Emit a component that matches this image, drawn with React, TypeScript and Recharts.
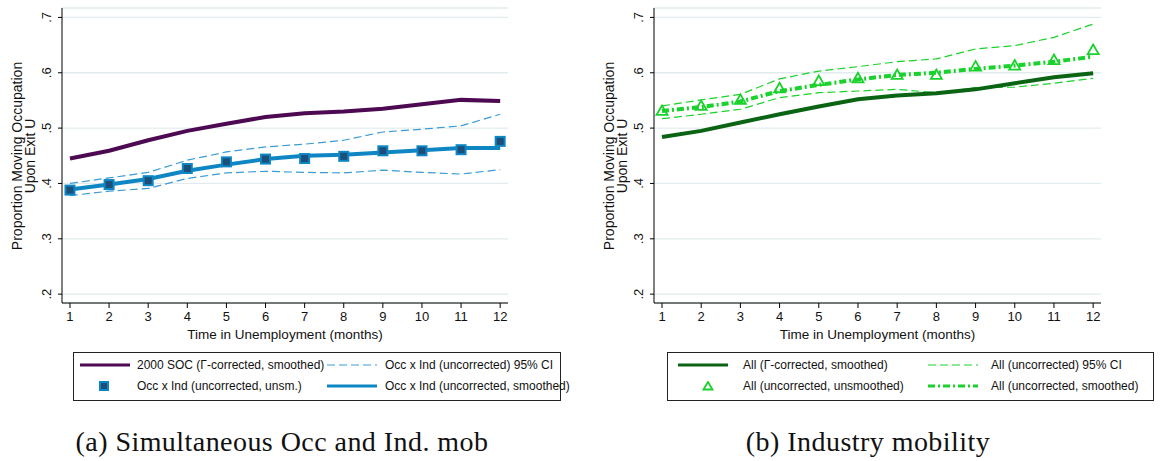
import React from "react"
import { CartesianGrid, Line, LineChart, XAxis, YAxis } from "recharts"

// months on the x axis
const months = [1, 2, 3, 4, 5, 6, 7, 8, 9, 10, 11, 12]
const yTicks = [0.2, 0.3, 0.4, 0.5, 0.6, 0.7]

// panel (a): simultaneous occ and ind mobility
const socSmoothed = [0.445, 0.459, 0.478, 0.495, 0.508, 0.52, 0.527, 0.53, 0.535, 0.543, 0.551, 0.549]
const occIndSmoothed = [0.389, 0.398, 0.408, 0.423, 0.434, 0.444, 0.45, 0.452, 0.456, 0.46, 0.464, 0.464]
const occIndUnsm = [0.388, 0.398, 0.405, 0.427, 0.439, 0.444, 0.445, 0.449, 0.459, 0.459, 0.461, 0.476]
const occIndUpper = [0.4, 0.41, 0.42, 0.442, 0.457, 0.466, 0.471, 0.478, 0.493, 0.498, 0.504, 0.525]
const occIndLower = [0.378, 0.386, 0.391, 0.409, 0.419, 0.422, 0.42, 0.419, 0.424, 0.42, 0.417, 0.425]

// panel (b): industry mobility
const allCorrected = [0.484, 0.495, 0.51, 0.525, 0.539, 0.552, 0.559, 0.563, 0.57, 0.581, 0.592, 0.599]
const allUnsm = [0.531, 0.54, 0.551, 0.572, 0.585, 0.59, 0.596, 0.596, 0.611, 0.613, 0.623, 0.641]
const allSmoothed = [0.531, 0.538, 0.548, 0.567, 0.578, 0.588, 0.596, 0.6, 0.607, 0.613, 0.62, 0.629]
const allUpper = [0.54, 0.551, 0.561, 0.589, 0.603, 0.611, 0.62, 0.625, 0.643, 0.649, 0.664, 0.688]
const allLower = [0.517, 0.525, 0.534, 0.555, 0.564, 0.567, 0.57, 0.564, 0.573, 0.574, 0.581, 0.59]

const yLabelLines = ["Proportion Moving Occupation", "Upon Exit U"]
const xTitle = "Time in Unemployment (months)"

const leftRows = months.map((m, i) => ({
  month: m,
  soc: socSmoothed[i],
  smooth: occIndSmoothed[i],
  unsm: occIndUnsm[i],
  upper: occIndUpper[i],
  lower: occIndLower[i],
}))

const rightRows = months.map((m, i) => ({
  month: m,
  corrected: allCorrected[i],
  unsm: allUnsm[i],
  smooth: allSmoothed[i],
  upper: allUpper[i],
  lower: allLower[i],
}))

const SANS = "'Liberation Sans', Arial, sans-serif"
const SERIF = "'Liberation Serif', serif"
const PURPLE = "#4d0a52"
const BLUE = "#0f86c4"
const BLUE_CI = "#3b9bd6"
const DKGREEN = "#0a6414"
const LIME = "#19d22b"

function fmtTick(v: number) {
  return v.toFixed(1).replace(/^0/, "")
}

function RotatedTick({ x, y, payload }: any) {
  const tx = x - 7
  return (
    <text x={tx} y={y} transform={`rotate(-90 ${tx} ${y})`} textAnchor="middle" fontSize={13} fill="#111" fontFamily={SANS}>
      {fmtTick(payload.value)}
    </text>
  )
}

function YTitle({ viewBox }: any) {
  const cx = viewBox.x - 10.5
  const cy = 156
  return (
    <text transform={`rotate(-90 ${cx} ${cy})`} x={cx} y={cy} textAnchor="middle" fontSize={14} fill="#111" fontFamily={SANS}>
      <tspan x={cx} dy={0}>{yLabelLines[0]}</tspan>
      <tspan x={cx} dy={13.5}>{yLabelLines[1]}</tspan>
    </text>
  )
}

function SquareDot(props: any) {
  const { cx, cy, index } = props
  if (cx == null || cy == null) return null
  return <rect key={`sq-${index}`} x={cx - 4.5} y={cy - 4.5} width={9} height={9} fill="#1b4f7a" stroke={BLUE} strokeWidth={2} />
}

function TriangleDot(props: any) {
  const { cx, cy, index } = props
  if (cx == null || cy == null) return null
  return (
    <polygon
      key={`tr-${index}`}
      points={`${cx},${cy - 5.5} ${cx - 5.5},${cy + 4} ${cx + 5.5},${cy + 4}`}
      fill="none"
      stroke={LIME}
      strokeWidth={1.8}
    />
  )
}

function Panel({ rows, marginLeft, marginRight, children }: any) {
  return (
    <LineChart
      width={580}
      height={346}
      data={rows}
      margin={{ top: 8, right: marginRight, bottom: 6, left: marginLeft }}
    >
      <CartesianGrid vertical={false} stroke="#e2ebee" strokeWidth={1.3} />
      <XAxis
        dataKey="month"
        type="number"
        domain={[0.796, 12.2]}
        ticks={months}
        allowDataOverflow
        height={37}
        tickSize={5}
        tickMargin={4}
        stroke="#000"
        tick={{ fill: "#111", fontSize: 13, fontFamily: SANS }}
        label={{ value: xTitle, position: "insideBottom", offset: 1, fill: "#111", fontSize: 13.5, fontFamily: SANS }}
      />
      <YAxis
        type="number"
        domain={[0.184, 0.717]}
        ticks={yTicks}
        allowDataOverflow
        width={30}
        tickSize={4}
        tickMargin={0}
        stroke="#000"
        tick={<RotatedTick />}
        label={{ content: <YTitle /> }}
      />
      {children}
    </LineChart>
  )
}

function LegendLine({ color, width, dash }: { color: string; width: number; dash?: string }) {
  return (
    <svg width={50} height={10} style={{ display: "block" }}>
      <line x1={0} y1={5} x2={50} y2={5} stroke={color} strokeWidth={width} strokeDasharray={dash} />
    </svg>
  )
}

function LegendItem({ left, top, symbol, text, textLeft }: any) {
  return (
    <>
      <div style={{ position: "absolute", left, top: top - 5 }}>{symbol}</div>
      <div style={{ position: "absolute", left: textLeft, top: top - 8, fontSize: 12, lineHeight: "16px", whiteSpace: "nowrap", color: "#111", fontFamily: SANS }}>
        {text}
      </div>
    </>
  )
}

const captionStyle: React.CSSProperties = {
  position: "absolute",
  top: 425,
  width: 600,
  textAlign: "center",
  fontSize: 28,
  lineHeight: "34px",
  letterSpacing: 0.45,
  whiteSpace: "nowrap",
  fontFamily: SERIF,
  color: "#111",
}

export default function App() {
  return (
    <div style={{ position: "absolute", left: 0, top: 0, width: 1160, height: 461, background: "#fff", overflow: "hidden" }}>
      <div style={{ position: "absolute", left: 0, top: 0 }}>
        <Panel rows={leftRows} marginLeft={32} marginRight={72}>
          <Line dataKey="soc" stroke={PURPLE} strokeWidth={4} dot={false} isAnimationActive={false} />
          <Line dataKey="upper" stroke={BLUE_CI} strokeWidth={1.2} strokeDasharray="8 4" dot={false} isAnimationActive={false} />
          <Line dataKey="lower" stroke={BLUE_CI} strokeWidth={1.2} strokeDasharray="8 4" dot={false} isAnimationActive={false} />
          <Line dataKey="smooth" stroke={BLUE} strokeWidth={4} dot={false} isAnimationActive={false} />
          <Line dataKey="unsm" stroke="none" dot={SquareDot} activeDot={false} isAnimationActive={false} />
        </Panel>
      </div>
      <div style={{ position: "absolute", left: 580, top: 0 }}>
        <Panel rows={rightRows} marginLeft={44} marginRight={59}>
          <Line dataKey="upper" stroke={LIME} strokeWidth={1.2} strokeDasharray="8 4" dot={false} isAnimationActive={false} />
          <Line dataKey="lower" stroke={LIME} strokeWidth={1.2} strokeDasharray="8 4" dot={false} isAnimationActive={false} />
          <Line dataKey="corrected" stroke={DKGREEN} strokeWidth={4} dot={false} isAnimationActive={false} />
          <Line dataKey="smooth" stroke={LIME} strokeWidth={4} strokeDasharray="7 3 2 3" dot={false} isAnimationActive={false} />
          <Line dataKey="unsm" stroke="none" dot={TriangleDot} activeDot={false} isAnimationActive={false} />
        </Panel>
      </div>

      {/* legend (a) */}
      <div style={{ position: "absolute", left: 73, top: 352, width: 486, height: 47, border: "1px solid #222" }} />
      <LegendItem left={80} top={365} textLeft={137} text="2000 SOC (Γ-corrected, smoothed)" symbol={<LegendLine color={PURPLE} width={3} />} />
      <LegendItem left={327} top={365} textLeft={385} text="Occ x Ind (uncorrected) 95% CI" symbol={<LegendLine color={BLUE_CI} width={1.2} dash="8 4" />} />
      <LegendItem
        left={99}
        top={386}
        textLeft={137}
        text="Occ x Ind (uncorrected, unsm.)"
        symbol={
          <svg width={10} height={10} style={{ display: "block" }}>
            <rect x={1} y={1} width={8} height={8} fill="#1b4f7a" stroke={BLUE} strokeWidth={2} />
          </svg>
        }
      />
      <LegendItem left={327} top={386} textLeft={385} text="Occ x Ind (uncorrected, smoothed)" symbol={<LegendLine color={BLUE} width={3} />} />

      {/* legend (b) */}
      <div style={{ position: "absolute", left: 667, top: 352, width: 485, height: 47, border: "1px solid #222" }} />
      <LegendItem left={678} top={365} textLeft={743} text="All (Γ-corrected, smoothed)" symbol={<LegendLine color={DKGREEN} width={3} />} />
      <LegendItem left={928} top={365} textLeft={991} text="All (uncorrected) 95% CI" symbol={<LegendLine color={LIME} width={1.2} dash="8 4" />} />
      <LegendItem
        left={702}
        top={386}
        textLeft={743}
        text="All (uncorrected, unsmoothed)"
        symbol={
          <svg width={12} height={10} style={{ display: "block" }}>
            <polygon points="6,1 1.5,8.5 10.5,8.5" fill="none" stroke={LIME} strokeWidth={1.8} />
          </svg>
        }
      />
      <LegendItem left={928} top={386} textLeft={991} text="All (uncorrected, smoothed)" symbol={<LegendLine color={LIME} width={3} dash="7 3 2 3" />} />

      {/* captions */}
      <div style={{ ...captionStyle, left: 282 - 300 }}>(a) Simultaneous Occ and Ind. mob</div>
      <div style={{ ...captionStyle, left: 868 - 300 }}>(b) Industry mobility</div>
    </div>
  )
}
